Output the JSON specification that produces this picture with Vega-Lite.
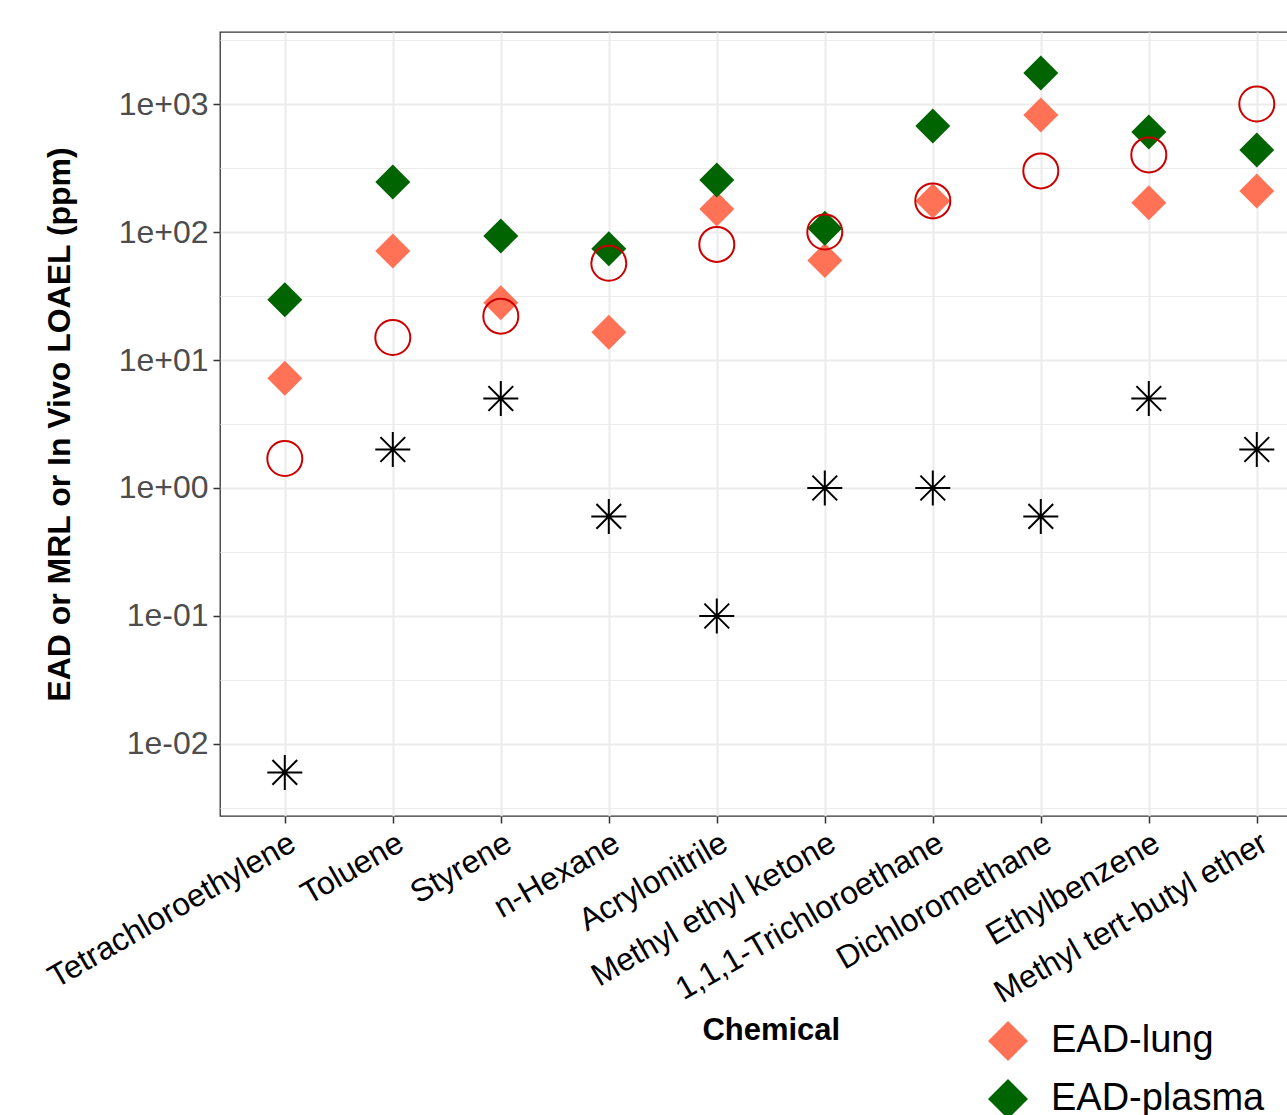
{
  "$schema": "https://vega.github.io/schema/vega-lite/v6.json",
  "autosize": "none",
  "padding": {"left": 220, "top": 32, "right": 0, "bottom": 299},
  "width": 1101.6,
  "height": 784,
  "config": {
    "font": "Liberation Sans",
    "view": {"stroke": "#333333", "strokeWidth": 1.3},
    "background": "white"
  },
  "data": {
    "values": [
      {"chem": "Tetrachloroethylene", "series": "EAD-lung", "value": 7.2},
      {"chem": "Toluene", "series": "EAD-lung", "value": 71},
      {"chem": "Styrene", "series": "EAD-lung", "value": 28},
      {"chem": "n-Hexane", "series": "EAD-lung", "value": 16.5},
      {"chem": "Acrylonitrile", "series": "EAD-lung", "value": 151},
      {"chem": "Methyl ethyl ketone", "series": "EAD-lung", "value": 60},
      {"chem": "1,1,1-Trichloroethane", "series": "EAD-lung", "value": 175},
      {"chem": "Dichloromethane", "series": "EAD-lung", "value": 820},
      {"chem": "Ethylbenzene", "series": "EAD-lung", "value": 169},
      {"chem": "Methyl tert-butyl ether", "series": "EAD-lung", "value": 209},
      {"chem": "Tetrachloroethylene", "series": "EAD-plasma", "value": 29.5},
      {"chem": "Toluene", "series": "EAD-plasma", "value": 246},
      {"chem": "Styrene", "series": "EAD-plasma", "value": 93},
      {"chem": "n-Hexane", "series": "EAD-plasma", "value": 74},
      {"chem": "Acrylonitrile", "series": "EAD-plasma", "value": 255},
      {"chem": "Methyl ethyl ketone", "series": "EAD-plasma", "value": 107},
      {"chem": "1,1,1-Trichloroethane", "series": "EAD-plasma", "value": 673},
      {"chem": "Dichloromethane", "series": "EAD-plasma", "value": 1746},
      {"chem": "Ethylbenzene", "series": "EAD-plasma", "value": 604},
      {"chem": "Methyl tert-butyl ether", "series": "EAD-plasma", "value": 437},
      {"chem": "Tetrachloroethylene", "series": "In Vivo LOAEL", "value": 1.7},
      {"chem": "Toluene", "series": "In Vivo LOAEL", "value": 15},
      {"chem": "Styrene", "series": "In Vivo LOAEL", "value": 22},
      {"chem": "n-Hexane", "series": "In Vivo LOAEL", "value": 57},
      {"chem": "Acrylonitrile", "series": "In Vivo LOAEL", "value": 80},
      {"chem": "Methyl ethyl ketone", "series": "In Vivo LOAEL", "value": 100},
      {"chem": "1,1,1-Trichloroethane", "series": "In Vivo LOAEL", "value": 175},
      {"chem": "Dichloromethane", "series": "In Vivo LOAEL", "value": 300},
      {"chem": "Ethylbenzene", "series": "In Vivo LOAEL", "value": 400},
      {"chem": "Methyl tert-butyl ether", "series": "In Vivo LOAEL", "value": 1000},
      {"chem": "Tetrachloroethylene", "series": "MRL", "value": 0.006},
      {"chem": "Toluene", "series": "MRL", "value": 2},
      {"chem": "Styrene", "series": "MRL", "value": 5},
      {"chem": "n-Hexane", "series": "MRL", "value": 0.6},
      {"chem": "Acrylonitrile", "series": "MRL", "value": 0.1},
      {"chem": "Methyl ethyl ketone", "series": "MRL", "value": 1},
      {"chem": "1,1,1-Trichloroethane", "series": "MRL", "value": 1},
      {"chem": "Dichloromethane", "series": "MRL", "value": 0.6},
      {"chem": "Ethylbenzene", "series": "MRL", "value": 5},
      {"chem": "Methyl tert-butyl ether", "series": "MRL", "value": 2}
    ]
  },
  "mark": {"type": "point", "size": 1225, "strokeWidth": 2, "opacity": 1},
  "encoding": {
    "x": {
      "field": "chem",
      "type": "nominal",
      "sort": ["Tetrachloroethylene", "Toluene", "Styrene", "n-Hexane", "Acrylonitrile", "Methyl ethyl ketone", "1,1,1-Trichloroethane", "Dichloromethane", "Ethylbenzene", "Methyl tert-butyl ether"],
      "scale": {"type": "point", "padding": 0.6},
      "axis": {
        "title": "Chemical",
        "titleFontSize": 31,
        "titleFontWeight": "bold",
        "titleColor": "black",
        "titleY": 215,
        "titleBaseline": "middle",
        "grid": true,
        "gridColor": "#EBEBEB",
        "gridWidth": 2,
        "domain": false,
        "ticks": true,
        "tickColor": "#333333",
        "tickSize": 7,
        "tickWidth": 1.5,
        "labelAngle": -30,
        "labelAlign": "right",
        "labelBaseline": "top",
        "labelFontSize": 32,
        "labelColor": "black",
        "labelPadding": 4,
        "labelOverlap": false,
        "labelLimit": 0
      }
    },
    "y": {
      "field": "value",
      "type": "quantitative",
      "scale": {"type": "log", "domain": [0.0027384, 3651.7], "nice": false, "zero": false},
      "axis": {
        "title": "EAD or MRL or In Vivo LOAEL (ppm)",
        "titleFontSize": 32,
        "titleFontWeight": "bold",
        "titleColor": "black",
        "titleX": -160,
        "titleBaseline": "middle",
        "values": [0.0031623, 0.01, 0.031623, 0.1, 0.31623, 1, 3.1623, 10, 31.623, 100, 316.23, 1000, 3162.3],
        "labelExpr": "abs(log(datum.value)/LN10 - round(log(datum.value)/LN10)) < 0.01 ? '1e' + (round(log(datum.value)/LN10) < 0 ? '-0' : '+0') + abs(round(log(datum.value)/LN10)) : ''",
        "labelFontSize": 32,
        "labelColor": "#4D4D4D",
        "labelPadding": 5,
        "labelOverlap": false,
        "grid": true,
        "gridColor": "#EBEBEB",
        "gridWidth": {"condition": {"test": "abs(log(datum.value)/LN10 - round(log(datum.value)/LN10)) < 0.01", "value": 2}, "value": 1.2},
        "domain": false,
        "tickColor": "#333333",
        "tickSize": 7,
        "tickWidth": 1.5,
        "tickOpacity": {"condition": {"test": "abs(log(datum.value)/LN10 - round(log(datum.value)/LN10)) < 0.01", "value": 1}, "value": 0}
      }
    },
    "fill": {
      "field": "series",
      "type": "nominal",
      "scale": {"domain": ["EAD-lung", "EAD-plasma", "In Vivo LOAEL", "MRL"], "range": ["#FF7256", "#006400", "transparent", "transparent"]},
      "legend": {
        "title": null,
        "orient": "none",
        "legendX": 767,
        "legendY": 988,
        "padding": 0,
        "labelFontSize": 38,
        "labelColor": "black",
        "labelOffset": 22,
        "rowPadding": 10,
        "symbolSize": 1600,
        "symbolStrokeWidth": 2,
        "labelLimit": 0
      }
    },
    "stroke": {
      "field": "series",
      "type": "nominal",
      "scale": {"domain": ["EAD-lung", "EAD-plasma", "In Vivo LOAEL", "MRL"], "range": ["transparent", "transparent", "#CD0000", "black"]}
    },
    "shape": {
      "field": "series",
      "type": "nominal",
      "scale": {"domain": ["EAD-lung", "EAD-plasma", "In Vivo LOAEL", "MRL"], "range": ["diamond", "diamond", "circle", "M-1,0L1,0M0,-1L0,1M-0.7071,-0.7071L0.7071,0.7071M-0.7071,0.7071L0.7071,-0.7071"]}
    }
  }
}
